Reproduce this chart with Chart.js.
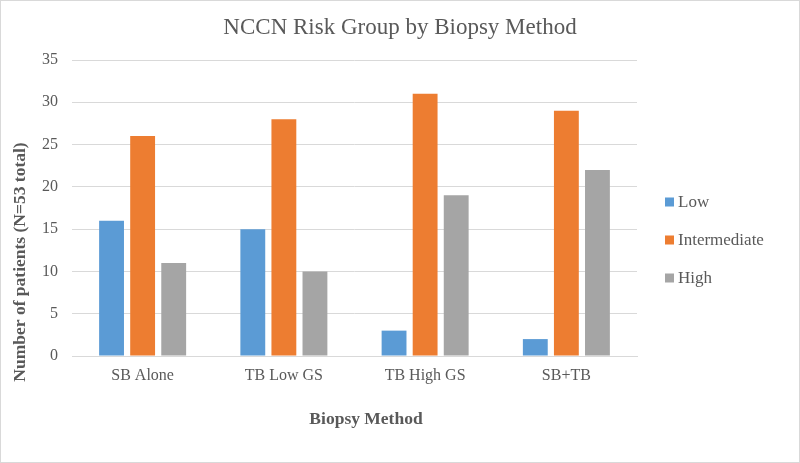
<!DOCTYPE html>
<html><head><meta charset="utf-8">
<script src="https://cdn.jsdelivr.net/npm/chart.js@4/dist/chart.umd.min.js"></script>
<style>html,body{margin:0;padding:0;background:#fff}#wrap{width:800px;height:463px;position:relative}</style>
</head><body><div id="wrap"><canvas id="c" width="800" height="463"></canvas></div>
<script>
const categories = ["SB Alone", "TB Low GS", "TB High GS", "SB+TB"];
const lowValues = [16, 15, 3, 2];
const intermediateValues = [26, 28, 31, 29];
const highValues = [11, 10, 19, 22];
const seriesNames = ["Low", "Intermediate", "High"];
const yTicks = [0, 5, 10, 15, 20, 25, 30, 35];
const chartTitle = 'NCCN Risk Group by Biopsy Method';
const xTitle = 'Biopsy Method';
const yTitle = 'Number of patients (N=53 total)';

const FONT = "'Liberation Serif', 'Times New Roman', serif";
const TXT = '#595959';

const borderPlugin = {
  id: 'borderPlugin',
  beforeDraw(chart) {
    const ctx = chart.ctx;
    ctx.save();
    ctx.fillStyle = '#fff';
    ctx.fillRect(0, 0, chart.width, chart.height);
    ctx.strokeStyle = '#d9d9d9';
    ctx.lineWidth = 1;
    ctx.strokeRect(0.5, 0.5, chart.width - 1, chart.height - 1);
    ctx.restore();
  }
};

const extrasPlugin = {
  id: 'extras',
  afterDraw(chart) {
    const ctx = chart.ctx;
    ctx.save();
    // legend
    ctx.font = '17px ' + FONT;
    ctx.textBaseline = 'middle';
    ctx.textAlign = 'left';
    chart.data.datasets.forEach((ds, i) => {
      const cy = 202 + i * 38;
      ctx.fillStyle = ds.backgroundColor;
      ctx.fillRect(665, cy - 4.5, 9, 9);
      ctx.fillStyle = TXT;
      ctx.fillText(ds.label, 678, cy + 1);
    });
    // axis titles
    ctx.font = 'bold 17.5px ' + FONT;
    ctx.textAlign = 'center';
    ctx.fillStyle = TXT;
    ctx.fillText(xTitle, 366, 419);
    ctx.translate(20, 262);
    ctx.rotate(-Math.PI / 2);
    ctx.fillText(yTitle, 0, 0);
    ctx.restore();
  }
};

new Chart(document.getElementById('c'), {
  type: 'bar',
  data: {
    labels: categories,
    datasets: [
      { label: seriesNames[0], data: lowValues, backgroundColor: '#5B9BD5' },
      { label: seriesNames[1], data: intermediateValues, backgroundColor: '#ED7D31' },
      { label: seriesNames[2], data: highValues, backgroundColor: '#A5A5A5' }
    ]
  },
  options: {
    responsive: false,
    animation: false,
    devicePixelRatio: 1,
    categoryPercentage: 0.66,
    barPercentage: 0.8,
    layout: { padding: 0 },
    plugins: {
      legend: { display: false },
      tooltip: { enabled: false },
      title: {
        display: true,
        text: chartTitle,
        color: TXT,
        font: { family: FONT, size: 23, weight: 'normal' },
        padding: { top: 14.2, bottom: 18.2 }
      }
    },
    scales: {
      x: {
        grid: { display: false, drawTicks: false },
        border: { display: true, color: '#d9d9d9' },
        ticks: { color: TXT, font: { family: FONT, size: 16 }, padding: 10 },
        afterFit(s) { s.height = 107; }
      },
      y: {
        min: 0, max: 35,
        afterBuildTicks(s) { s.ticks = yTicks.map(v => ({ value: v })); },
        grid: { color: '#d9d9d9', drawTicks: false },
        border: { display: false },
        ticks: { color: TXT, font: { family: FONT, size: 16 }, padding: 14 },
        afterFit(s) { s.width = 72; }
      },
      spacer: {
        type: 'linear',
        position: 'right',
        display: true,
        grid: { display: false, drawTicks: false },
        border: { display: false },
        ticks: { display: false },
        afterFit(s) { s.width = 163; }
      }
    }
  },
  plugins: [borderPlugin, extrasPlugin]
});
</script></body></html>
